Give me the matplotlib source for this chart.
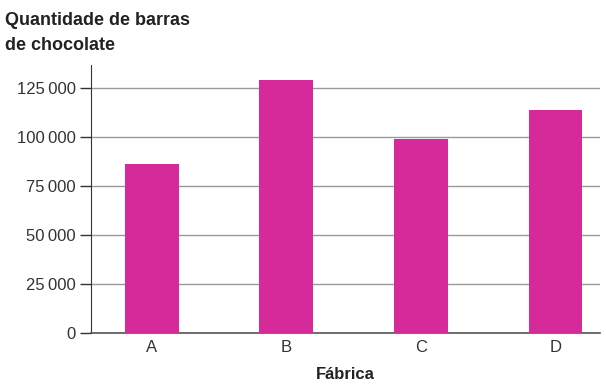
import matplotlib
matplotlib.use("Agg")
import matplotlib.pyplot as plt

categories = ["A", "B", "C", "D"]
values = [86000, 129000, 99000, 114000]
yticks = [0, 25000, 50000, 75000, 100000, 125000]
ytick_labels = ["0", "25\u2009000", "50\u2009000", "75\u2009000", "100\u2009000", "125\u2009000"]

plt.rcParams['font.family'] = ['Liberation Sans', 'DejaVu Sans']

fig = plt.figure(figsize=(6.06, 3.84), dpi=100)
ax = fig.add_axes([91/606, 1-333/384, (600-91)/606, (333-65)/384])

x = list(range(len(categories)))
ax.bar(x, values, width=0.4, color="#D62A9A", zorder=3)
ax.set_xlim(-0.45, 3.33)
ax.set_ylim(0, 136700)
ax.set_yticks(yticks)
ax.set_yticklabels(ytick_labels, fontsize=12, color="#333333")
ax.set_xticks(x)
ax.set_xticklabels(categories, fontsize=12, color="#333333")
ax.tick_params(axis='x', length=0, pad=5)
ax.tick_params(axis='y', length=8, width=1, direction='out', pad=3, color="#333333")
ax.yaxis.grid(True, color="#999999", linewidth=1, zorder=0)
for s in ["top", "right"]:
    ax.spines[s].set_visible(False)
ax.spines["left"].set_color("#333333")
ax.spines["bottom"].set_color("#555555")
ax.spines["bottom"].set_linewidth(1.2)

fig.text(5/606, 1-33/384, "Quantidade de barras\nde chocolate", fontsize=13, fontweight="bold",
         color="#222222", va="center", ha="left", linespacing=1.55)
ax.set_xlabel("Fábrica", fontsize=12, fontweight="bold", color="#222222", labelpad=9)

fig.savefig("out.png", dpi=100)
